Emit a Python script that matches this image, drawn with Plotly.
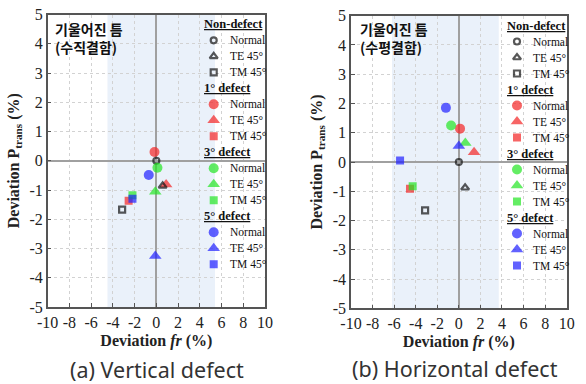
import plotly.graph_objects as go

# ---------------- data ----------------
groups = ["Non-defect", "1° defect", "3° defect", "5° defect"]
modes = ["Normal", "TE 45°", "TM 45°"]

# (a) Vertical defect : deviation fr (%) and deviation P_trans (%) for Normal, TE 45°, TM 45°
v_non_fr = [0.0, 0.58, -3.15]
v_non_p = [0.0, -0.86, -1.67]
v_d1_fr = [-0.17, 0.90, -2.55]
v_d1_p = [0.30, -0.81, -1.37]
v_d3_fr = [0.10, -0.10, -2.20]
v_d3_p = [-0.24, -1.06, -1.18]
v_d5_fr = [-0.70, -0.10, -2.20]
v_d5_p = [-0.49, -3.26, -1.30]

# (b) Horizontal defect
h_non_fr = [0.0, 0.58, -3.13]
h_non_p = [0.0, -0.88, -1.65]
h_d1_fr = [0.11, 1.41, -4.53]
h_d1_p = [1.14, 0.33, -0.91]
h_d3_fr = [-0.72, 0.60, -4.28]
h_d3_p = [1.25, 0.65, -0.83]
h_d5_fr = [-1.20, 0.00, -5.45]
h_d5_p = [1.85, 0.55, 0.05]

# shaded band (fr range)
v_band = [-4.5, 5.4]
h_band = [-6.2, 3.7]

x_ticks = list(range(-10, 11, 2))
x_ticklabels = ["-10", "-8", "-6", "-4", "-2", "0", "2", "4", "6", "8", "10"]
y_ticks = list(range(-5, 6, 1))
y_ticklabels = ["-5", "-4", "-3", "-2", "-1", "0", "1", "2", "3", "4", "5"]

# ---------------- style ----------------
W, H = 586, 384
group_colors = ["#111111", "#f42424", "#22e622", "#1f1fff"]
filled_symbols = ["circle", "triangle-up", "square"]
open_symbols = ["circle-open", "triangle-up-open", "square-open"]
filled_sizes = [10, 11, 8]
open_sizes = [6, 7, 6]
SERIF = "Liberation Serif"

# pixel geometry of the two plot areas (left, top, right, bottom)
panels = [(47.7, 14.5, 265.0, 307.0), (351.0, 15.7, 566.7, 308.3)]


def xdom(p):
    return [p[0] / W, p[2] / W]


def ydom(p):
    return [1 - p[3] / H, 1 - p[1] / H]


fig = go.Figure()

panel_data = [
    [(v_non_fr, v_non_p), (v_d1_fr, v_d1_p), (v_d3_fr, v_d3_p), (v_d5_fr, v_d5_p)],
    [(h_non_fr, h_non_p), (h_d1_fr, h_d1_p), (h_d3_fr, h_d3_p), (h_d5_fr, h_d5_p)],
]
draw_order = [1, 0, 2, 3]

for pi, pdata in enumerate(panel_data):
    xa = "x" if pi == 0 else "x2"
    ya = "y" if pi == 0 else "y2"
    for gi in draw_order:
        fr, pt = pdata[gi]
        if gi == 0:
            sym, size, lw = open_symbols, open_sizes, 2.2
        else:
            sym, size, lw = filled_symbols, filled_sizes, 0
        fig.add_trace(go.Scatter(
            x=fr, y=pt, mode="markers", xaxis=xa, yaxis=ya,
            marker=dict(symbol=sym, size=size, color=group_colors[gi],
                        line=dict(width=lw, color=group_colors[gi])),
            name=groups[gi], showlegend=False, hoverinfo="x+y"))

# ---------------- custom legends (overlay axes, row units) ----------------
ROW_H = 16.0
FIRST_ROW = 9.8  # px below top of plot area
annotations = []
for pi, p in enumerate(panels):
    lx = "x3" if pi == 0 else "x4"
    ly = "y3" if pi == 0 else "y4"
    rows, xs, syms, cols, sizes, lws = [], [], [], [], [], []
    for gi, g in enumerate(groups):
        head_row = gi * 4
        annotations.append(dict(
            x=154.2, y=head_row, xref=lx, yref=ly, xanchor="left", yanchor="middle",
            text="<b><u>%s</u></b>" % g, showarrow=False,
            font=dict(family=SERIF, size=12.5, color="#111111")))
        for mi, m in enumerate(modes):
            r = head_row + 1 + mi
            rows.append(r)
            xs.append(166.0)
            if gi == 0:
                syms.append(open_symbols[mi]); sizes.append(open_sizes[mi]); lws.append(2.2)
            else:
                syms.append(filled_symbols[mi]); sizes.append(filled_sizes[mi]); lws.append(0)
            cols.append(group_colors[gi])
            annotations.append(dict(
                x=180.0, y=r, xref=lx, yref=ly, xanchor="left", yanchor="middle",
                text=m, showarrow=False,
                font=dict(family=SERIF, size=11.5, color="#111111")))
    fig.add_trace(go.Scatter(
        x=xs, y=rows, mode="markers", xaxis=lx, yaxis=ly,
        marker=dict(symbol=syms, size=sizes, color=cols, line=dict(width=lws, color=cols)),
        showlegend=False, hoverinfo="skip"))

# ---------------- axes ----------------
def main_xaxis(p, anchor):
    return dict(domain=xdom(p), range=[-10, 10], tickvals=x_ticks, ticktext=x_ticklabels,
                anchor=anchor, automargin=False, tickangle=0,
                ticks="inside", ticklen=4, tickcolor="#555", tickwidth=1,
                showgrid=True, gridcolor="#d2d2d2", griddash="dot", gridwidth=1,
                zeroline=True, zerolinecolor="#a0a0a0", zerolinewidth=1.5,
                showline=True, linecolor="#555555", linewidth=1.5, mirror=True,
                tickfont=dict(family=SERIF, size=16, color="#222"),
                title=dict(text="<b>Deviation <i>fr</i> (%)</b>", standoff=5,
                           font=dict(family=SERIF, size=16, color="#222")))


def main_yaxis(p, anchor):
    return dict(domain=ydom(p), range=[-5, 5], tickvals=y_ticks, ticktext=y_ticklabels,
                anchor=anchor, automargin=False,
                ticks="inside", ticklen=4, tickcolor="#555", tickwidth=1,
                showgrid=True, gridcolor="#d2d2d2", griddash="dot", gridwidth=1,
                zeroline=True, zerolinecolor="#a0a0a0", zerolinewidth=1.5,
                showline=True, linecolor="#555555", linewidth=1.5, mirror=True,
                tickfont=dict(family=SERIF, size=16, color="#222"),
                title=dict(text="<b>Deviation P<sub>trans</sub> (%)</b>", standoff=6,
                           font=dict(family=SERIF, size=16, color="#222")))


def legend_x(p, over, anchor):
    return dict(overlaying=over, range=[0, p[2] - p[0]], visible=False, fixedrange=True,
                anchor=anchor, automargin=False)


def legend_y(p, over, anchor):
    ph = p[3] - p[1]
    top = -FIRST_ROW / ROW_H
    bottom = (ph - FIRST_ROW) / ROW_H
    return dict(overlaying=over, range=[bottom, top], visible=False, anchor=anchor,
                fixedrange=True, automargin=False)


shapes = []
for xr, yr, band in (("x", "y", v_band), ("x2", "y2", h_band)):
    shapes.append(dict(type="rect", xref=xr, yref=yr + " domain",
                       x0=band[0], x1=band[1], y0=0, y1=1, layer="below",
                       fillcolor="#eaf1fa", line=dict(width=0)))

# Korean labels and captions
KFONT = dict(family="Noto Sans CJK KR", size=14, color="#111")
CFONT = dict(family="Noto Sans", size=21.5, color="#333")
annotations += [
    dict(x=53 / W, y=1 - 38.4 / H, xref="paper", yref="paper", xanchor="left", yanchor="middle",
         align="left", text="<b>기울어진 틈<br>(수직결함)</b>", showarrow=False, font=KFONT),
    dict(x=357.7 / W, y=1 - 38.0 / H, xref="paper", yref="paper", xanchor="left", yanchor="middle",
         align="left", text="<b>기울어진 틈<br>(수평결함)</b>", showarrow=False, font=KFONT),
    dict(x=156.5 / W, y=1 - 369.5 / H, xref="paper", yref="paper", xanchor="center", yanchor="middle",
         text="(a) Vertical defect", showarrow=False, font=CFONT),
    dict(x=455 / W, y=1 - 368.5 / H, xref="paper", yref="paper", xanchor="center", yanchor="middle",
         text="(b) Horizontal defect", showarrow=False, font=CFONT),
]

fig.update_layout(
    template="none",
    width=W, height=H, autosize=False,
    margin=dict(l=0, r=0, t=0, b=0, autoexpand=False),
    paper_bgcolor="white", plot_bgcolor="white",
    showlegend=False,
    xaxis=main_xaxis(panels[0], "y"),
    yaxis=main_yaxis(panels[0], "x"),
    xaxis2=main_xaxis(panels[1], "y2"),
    yaxis2=main_yaxis(panels[1], "x2"),
    xaxis3=legend_x(panels[0], "x", "y3"),
    yaxis3=legend_y(panels[0], "y", "x3"),
    xaxis4=legend_x(panels[1], "x2", "y4"),
    yaxis4=legend_y(panels[1], "y2", "x4"),
    shapes=shapes,
    annotations=annotations,
)

fig.write_html("out.html", config={"displayModeBar": False},
               post_script="document.body.style.margin='0';")
